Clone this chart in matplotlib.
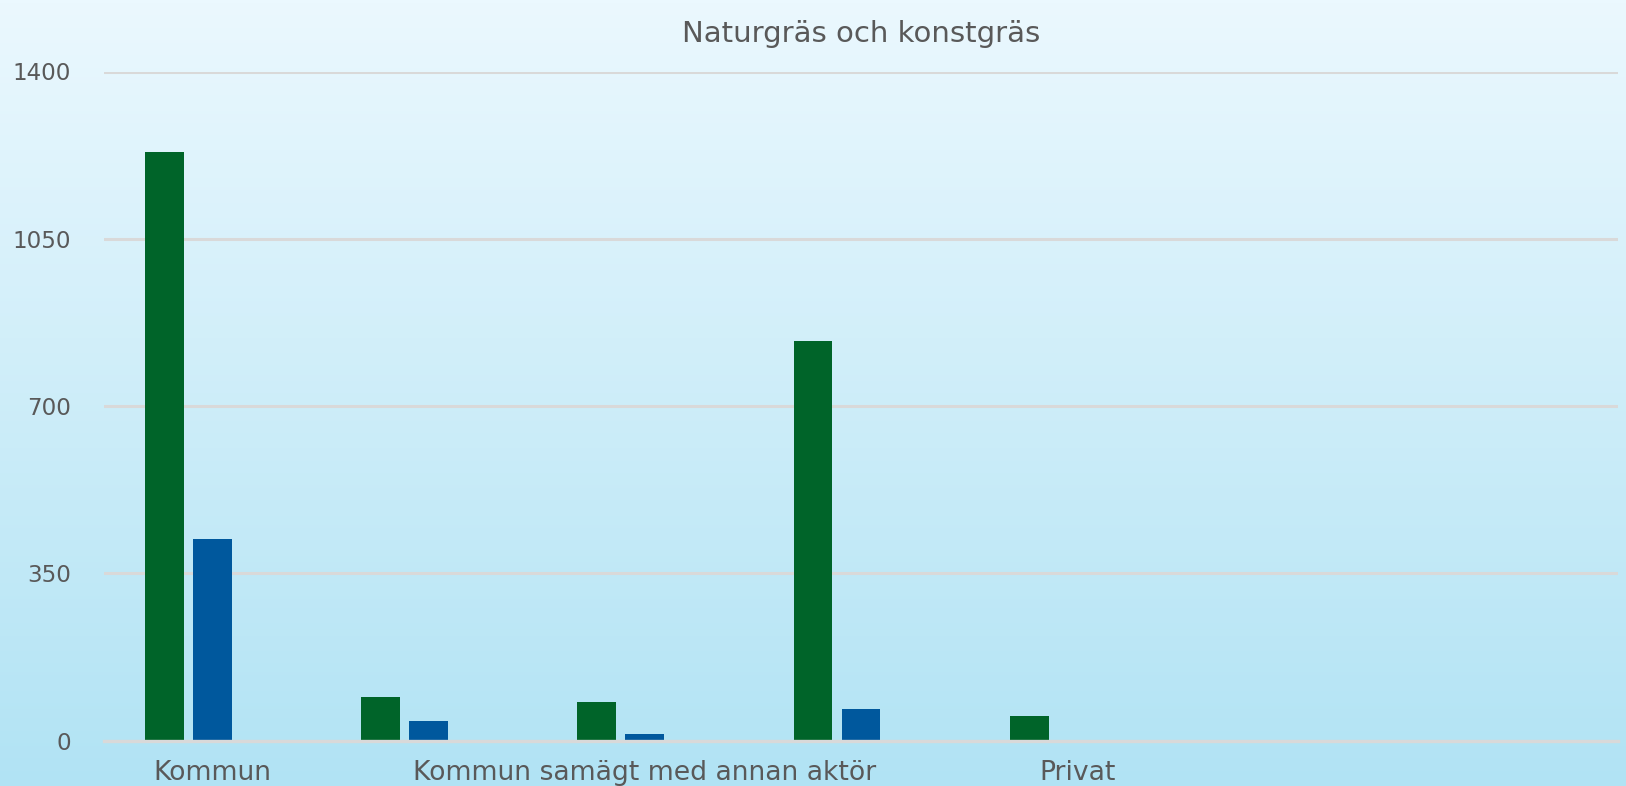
import numpy as np
import matplotlib.pyplot as plt
from matplotlib.colors import LinearSegmentedColormap

# --- Data ---
categories = ["Kommun", "", "Kommun samägt med annan aktör", "", "Privat", "", ""]
naturgras = [1231, 91, 80, 836, 52, 0, 0]
konstgras = [421, 41, 13, 65, 0, 0, 0]
tredje = [0, 0, 0, 0, 0, 0, 0]
yticks = [0, 350, 700, 1050, 1400]

TEXT = "#595959"
GRID = "#D9D9D9"

plt.rcParams['font.family'] = ['DejaVu Sans']

fig = plt.figure(figsize=(16.26, 7.86), dpi=100)

# gradient background over the whole figure
bg = fig.add_axes([0, 0, 1, 1], zorder=-10)
cmap = LinearSegmentedColormap.from_list("bg", ["#B1E3F4", "#EBF8FE"])
grad = np.linspace(0, 1, 256).reshape(-1, 1)
bg.imshow(grad, aspect='auto', cmap=cmap, origin='lower', extent=[0, 1, 0, 1])
bg.axis('off')

# axes placed to match the reference (pixels -> fractions)
W, H = 1626, 786
left, right, top, bottom = 104, 1618, 71.5, 740.5
ax = fig.add_axes([left / W, 1 - bottom / H, (right - left) / W, (bottom - top) / H])
ax.set_facecolor('none')

x = np.arange(len(categories))
bw = 0.18
step = 0.222
ax.bar(x - step, naturgras, bw, color="#006429", zorder=3)
ax.bar(x, konstgras, bw, color="#00589D", zorder=3)
ax.bar(x + step, tredje, bw, color="#7F7F7F", zorder=3)

ax.set_xlim(-0.5, len(categories) - 0.5)
ax.set_ylim(0, 1400)
ax.set_yticks(yticks)
ax.set_yticklabels([str(v) for v in yticks])
ax.set_xticks(x)
ax.set_xticklabels(categories)

ax.grid(axis='y', color=GRID, linewidth=2.2, zorder=0)
ax.tick_params(axis='y', length=0, pad=24, labelsize=16.6, labelcolor=TEXT)
ax.tick_params(axis='x', length=0, pad=14, labelsize=19.2, labelcolor=TEXT)
for side in ['top', 'right', 'left']:
    ax.spines[side].set_visible(False)
ax.spines['bottom'].set_color(GRID)
ax.spines['bottom'].set_linewidth(2.4)
ax.spines['bottom'].set_zorder(4)

ax.set_title("Naturgräs och konstgräs", fontsize=21, color=TEXT, pad=21)

plt.savefig('out.png', dpi=100)
plt.close()
